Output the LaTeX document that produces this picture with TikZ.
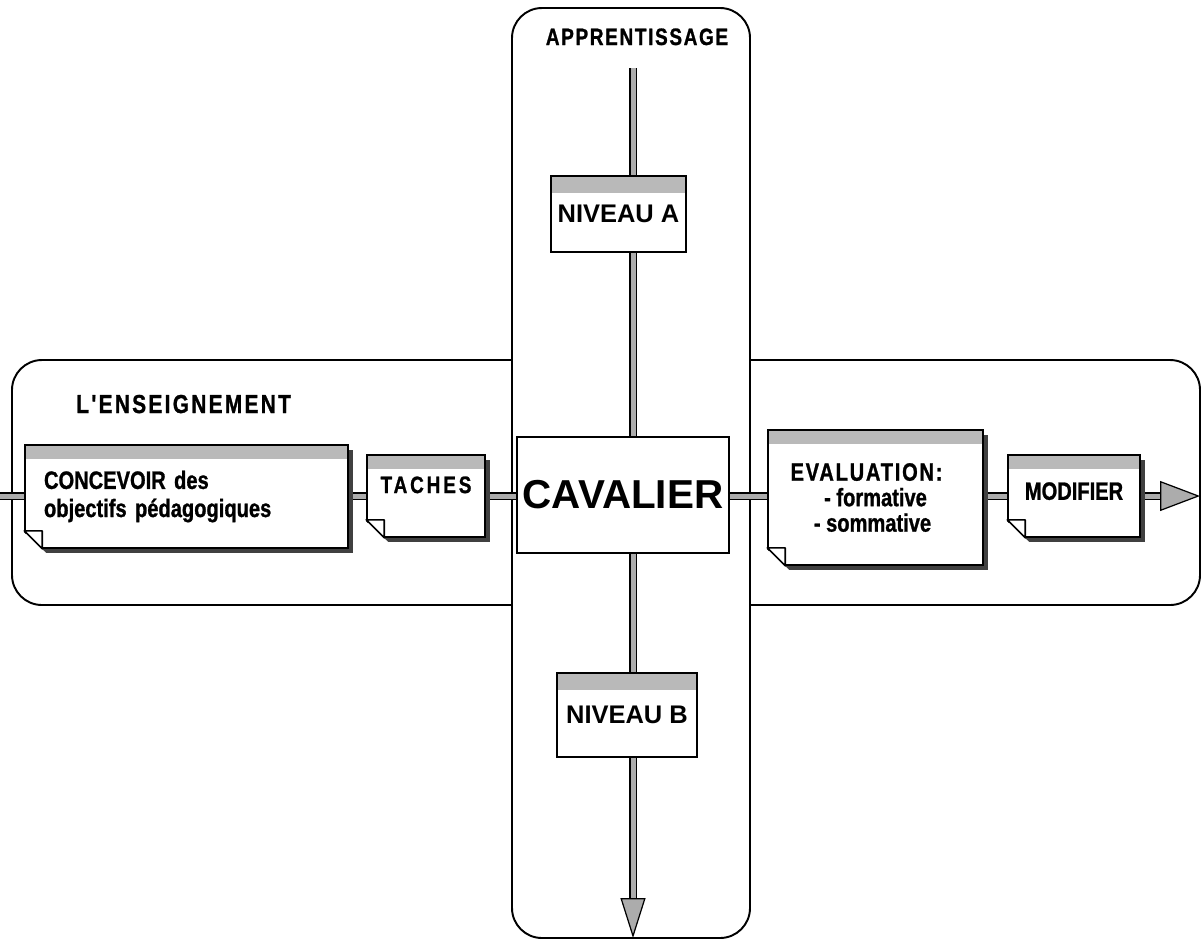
\documentclass[tikz,border=0pt]{standalone}
\usepackage{fontspec}
\setmainfont{Liberation Sans}
\newfontfamily\etroit[FakeStretch=0.8, BoldFeatures={FakeBold=1}]{Liberation Sans}
\usepackage{tikz}
\usetikzlibrary{arrows.meta,shadows}

\tikzset{
  cadre/.style={draw, line width=1.1pt, rounded corners=0.6cm, fill=white},
  axe/.style={line width=0.17cm, -{Triangle[length=0.8cm,width=0.6cm,fill=gray!65,line width=0.7pt]}},
  axev/.style={line width=0.17cm, -{Triangle[length=0.8cm,width=0.5cm,fill=gray!65,line width=0.7pt]}},
  axegris/.style={line width=0.1cm, draw=gray!65, shorten >=0.8cm},
  bande/.style={path picture={\fill[gray!55] (path picture bounding box.north west) rectangle ([yshift=-#1]path picture bounding box.north east);}},
  fiche/.style={draw, line width=0.9pt, fill=white, inner sep=0pt, bande=0.27cm,
    drop shadow={shadow xshift=0.1cm, shadow yshift=-0.1cm, fill=black!75, opacity=1},
    font=\etroit\bfseries\fontsize{14.3}{14.5}\selectfont},
  niveau/.style={draw, line width=0.9pt, fill=white, inner sep=0pt, bande=0.34cm,
    font=\bfseries\fontsize{14.5}{17}\selectfont},
  titre/.style={inner sep=0pt, font=\etroit\bfseries\fontsize{14.8}{17}\selectfont\addfontfeatures{LetterSpace=9}}
}

\begin{document}
\begin{tikzpicture}[x=0.02cm, y=-0.02cm]
  \useasboundingbox (0,0) rectangle (1202,941);

  % les deux cadres
  \draw[cadre] (12,360) rectangle (1200,605);
  \draw[cadre] (512,8) rectangle (750,938);

  \draw (76,413) node[titre, anchor=base west] (enseignement) {L'ENSEIGNEMENT};
  \draw (637,45) node[titre, anchor=base, font=\etroit\bfseries\fontsize{13.5}{16}\selectfont\addfontfeatures{LetterSpace=7}] (apprentissage) {APPRENTISSAGE};

  % les axes
  \coordinate (h0) at (0,496);
  \coordinate (h1) at (1200,496);
  \coordinate (v0) at (633,68);
  \coordinate (v1) at (633,938);
  \draw[axe] (h0) -- (h1);
  \draw[axegris] (h0) -- (h1);
  \draw[axev] (v0) -- (v1);
  \draw[axegris] (v0) -- (v1);

  \draw (186.5,496.5) node[fiche, minimum width=6.46cm, minimum height=2.06cm, text width=5.7cm, align=left,
      font=\etroit\bfseries\fontsize{14.3}{16}\selectfont] (concevoir) {CONCEVOIR des\\objectifs pédagogiques};
  \draw (426,496) node[fiche, minimum width=2.36cm, minimum height=1.64cm, text depth=0.45cm,
      font=\etroit\bfseries\fontsize{13.5}{16}\selectfont\addfontfeatures{LetterSpace=12}] (taches) {TACHES};
  \draw (623,495) node[draw, line width=0.9pt, fill=white, minimum width=4.2cm, minimum height=2.32cm,
      font=\bfseries\fontsize{23}{26}\selectfont] (cavalier) {CAVALIER};
  \draw (875.5,497.5) node[fiche, minimum width=4.3cm, minimum height=2.7cm, align=center,
      font=\etroit\bfseries\fontsize{14.3}{14.5}\selectfont] (evaluation)
      {\addfontfeatures{LetterSpace=7}EVALUATION:\hspace*{0.36cm}\\- formative\hspace*{0.6cm}\\- sommative\hspace*{0.12cm}};
  \draw (1074,496) node[fiche, minimum width=2.64cm, minimum height=1.64cm, text depth=0.2cm] (modifier) {MODIFIER};

  \draw (618.5,214) node[niveau, minimum width=2.7cm, minimum height=1.52cm] (niveauA) {NIVEAU A};
  \draw (627,715) node[niveau, minimum width=2.8cm, minimum height=1.68cm] (niveauB) {NIVEAU B};

  % coins cornes
  \foreach \n in {concevoir,taches,evaluation,modifier}{
    \fill[white] ([xshift=-0.04cm,yshift=0.36cm]\n.south west) -- ([xshift=0.5cm,yshift=-0.14cm]\n.south west)
      -- ([xshift=-0.04cm,yshift=-0.14cm]\n.south west) -- cycle;
    \draw[line width=0.9pt, fill=white, line join=round] ([yshift=0.36cm]\n.south west)
      -- ([xshift=0.36cm,yshift=0.36cm]\n.south west) -- ([xshift=0.36cm]\n.south west) -- cycle;
  }
\end{tikzpicture}
\end{document}
